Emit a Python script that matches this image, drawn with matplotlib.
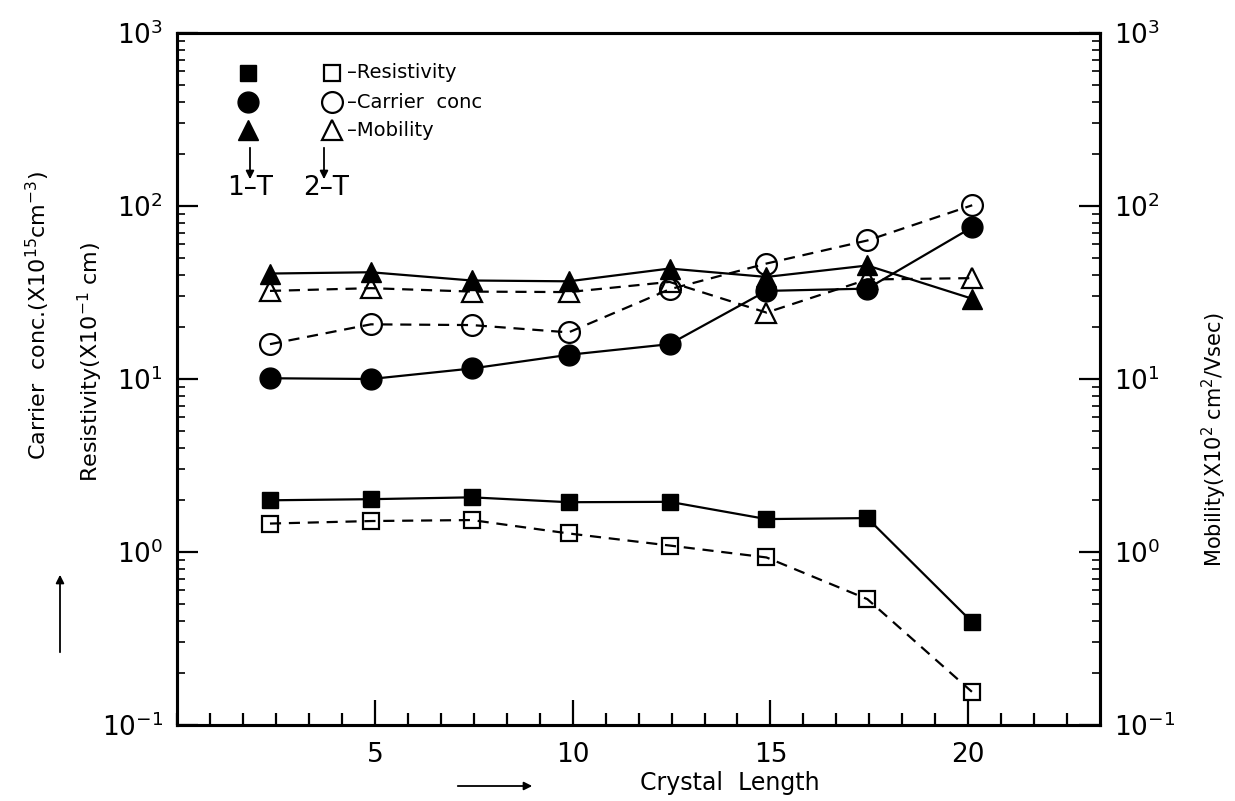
import matplotlib
matplotlib.use("Agg")
import matplotlib.pyplot as plt
from matplotlib.ticker import LogLocator, MultipleLocator, NullFormatter, FixedLocator

# ---- data ----
crystal_length = [2.35, 4.9, 7.45, 9.9, 12.45, 14.9, 17.45, 20.1]
resistivity_1T = [1.99, 2.02, 2.07, 1.94, 1.95, 1.55, 1.57, 0.393]
resistivity_2T = [1.46, 1.51, 1.53, 1.28, 1.09, 0.93, 0.534, 0.155]
carrier_1T = [10.1, 10.0, 11.5, 13.8, 15.9, 32.3, 33.3, 75.4]
carrier_2T = [15.9, 20.7, 20.5, 18.6, 33.0, 46.5, 63.2, 101.0]
mobility_1T = [40.7, 41.4, 37.1, 36.7, 43.5, 38.9, 45.3, 29.1]
mobility_2T = [32.3, 33.5, 32.0, 31.8, 36.4, 24.2, 37.6, 38.3]

x_major = [5, 10, 15, 20]
x_ticklabels = ["5", "10", "15", "20"]

plt.rcParams['font.family'] = ['DejaVu Sans']
plt.rcParams['mathtext.fontset'] = 'dejavusans'

W, H = 1235, 801
fig = plt.figure(figsize=(W / 100, H / 100), dpi=100)
L, R, T, B = 177, 1100, 33, 725
ax = fig.add_axes([L / W, 1 - B / H, (R - L) / W, (B - T) / H])

def axf(px, py):
    return ((px - L) / (R - L), (B - py) / (B - T))

ax.set_xlim(0, 23.33)
ax.set_yscale('log')
ax.set_ylim(0.1, 1000)

lw = 1.6
dash = (0, (5, 3.5))
ax.plot(crystal_length, resistivity_1T, '-', color='black', lw=lw,
        marker='s', ms=12, mfc='black', mec='black')
ax.plot(crystal_length, resistivity_2T, color='black', lw=lw, linestyle=dash,
        marker='s', ms=12, mfc='none', mec='black', mew=1.6)
ax.plot(crystal_length, carrier_1T, '-', color='black', lw=lw,
        marker='o', ms=15, mfc='black', mec='black')
ax.plot(crystal_length, carrier_2T, color='black', lw=lw, linestyle=dash,
        marker='o', ms=15, mfc='none', mec='black', mew=1.6)

ax2 = ax.twinx()
ax2.set_yscale('log')
ax2.set_ylim(0.1, 1000)
ax2.plot(crystal_length, mobility_1T, '-', color='black', lw=lw,
         marker='^', ms=14, mfc='black', mec='black')
ax2.plot(crystal_length, mobility_2T, color='black', lw=lw, linestyle=dash,
         marker='^', ms=14, mfc='none', mec='black', mew=1.6)

for a in (ax, ax2):
    for s in a.spines.values():
        s.set_linewidth(2.2)

# x ticks
ax.xaxis.set_major_locator(FixedLocator(x_major))
ax.set_xticklabels(x_ticklabels, fontsize=19)
ax.xaxis.set_minor_locator(MultipleLocator(5 / 6))
ax.tick_params(axis='x', which='major', direction='in', length=18, width=1.6, pad=12)
ax.tick_params(axis='x', which='minor', direction='in', length=9, width=1.6)
ax.tick_params(axis='x', top=False, which='both')

# y ticks
for a in (ax, ax2):
    a.yaxis.set_major_locator(LogLocator(base=10, numticks=10))
    a.yaxis.set_minor_locator(LogLocator(base=10, subs=range(2, 10), numticks=20))
    a.yaxis.set_minor_formatter(NullFormatter())
    a.tick_params(axis='y', which='major', direction='in', length=15, width=1.6,
                  labelsize=19, pad=10)
    a.tick_params(axis='y', which='minor', direction='in', length=6, width=1.2)
ax.tick_params(axis='y', which='both', right=False)
ax2.tick_params(axis='y', which='both', left=False)

# axis labels (placed manually)
fig.text(38 / W, 1 - 315 / H, r'Carrier  conc.(X10$^{15}$cm$^{-3}$)', rotation=90,
         ha='center', va='center', fontsize=16)
fig.text(90 / W, 1 - 362 / H, r'Resistivity(X10$^{-1}$ cm)', rotation=90,
         ha='center', va='center', fontsize=16)
fig.text(1214 / W, 1 - 440 / H, r'Mobility(X10$^{2}$ cm$^{2}$/Vsec)', rotation=90,
         ha='center', va='center', fontsize=15)
fig.text(640 / W, 1 - 783 / H, 'Crystal  Length', ha='left', va='center', fontsize=17)
fig.add_artist(matplotlib.patches.FancyArrowPatch(
    (455 / W, 1 - 786 / H), (535 / W, 1 - 786 / H), transform=fig.transFigure,
    arrowstyle='-|>', mutation_scale=12, lw=1.3, color='black'))
fig.add_artist(matplotlib.patches.FancyArrowPatch(
    (60 / W, 1 - 655 / H), (60 / W, 1 - 572 / H), transform=fig.transFigure,
    arrowstyle='-|>', mutation_scale=12, lw=1.3, color='black'))

# legend drawn manually
leg_rows = [(73, 's', 12, '\u2013Resistivity'), (102, 'o', 15, '\u2013Carrier  conc'),
            (130, '^', 14, '\u2013Mobility')]
for py, m, ms, txt in leg_rows:
    ax.plot(*axf(248, py), marker=m, ms=ms, mfc='black', mec='black',
            transform=ax.transAxes, clip_on=False)
    ax.plot(*axf(332, py), marker=m, ms=ms, mfc='none', mec='black', mew=1.6,
            transform=ax.transAxes, clip_on=False)
    ax.text(*axf(347, py), txt, transform=ax.transAxes, ha='left', va='center',
            fontsize=14)

for px, lab, tx in ((250, '1\u2013T', 250), (324, '2\u2013T', 326)):
    ax.annotate('', xy=axf(px, 182), xytext=axf(px, 145), xycoords='axes fraction',
                textcoords='axes fraction',
                arrowprops=dict(arrowstyle='-|>', mutation_scale=12, lw=1.3, color='black'))
    ax.text(*axf(tx, 188), lab, transform=ax.transAxes, ha='center', va='center',
            fontsize=19)

fig.savefig('out.png', dpi=100)
